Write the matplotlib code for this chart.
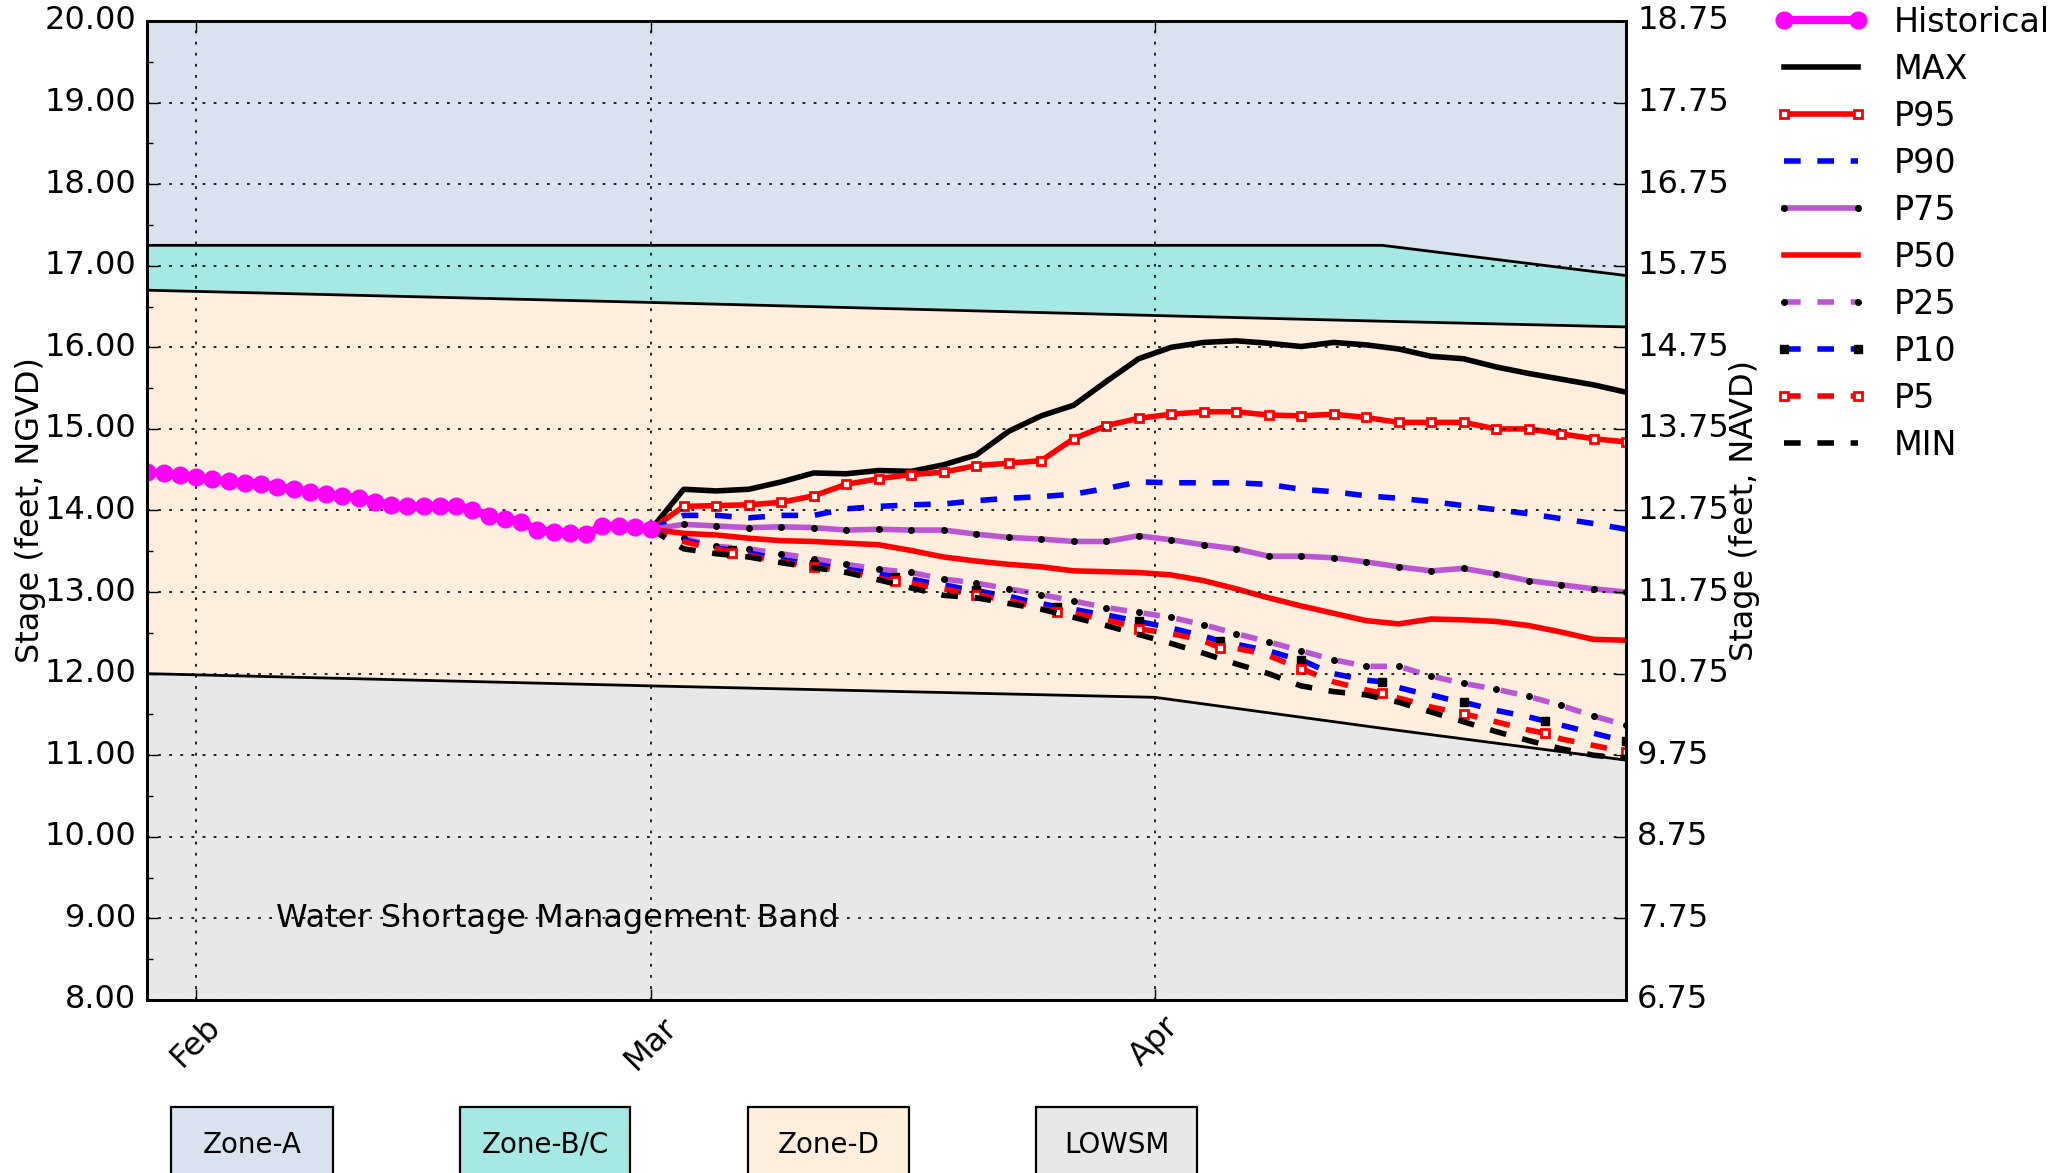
import datetime as dt
import numpy as np
import matplotlib
matplotlib.use('Agg')
import matplotlib.pyplot as plt
import matplotlib.dates as mdates
from matplotlib.ticker import MultipleLocator, FormatStrFormatter
from matplotlib.patches import Rectangle

plt.style.use('classic')

# historical daily stage, Jan 29 -> Mar 1
hist_start = dt.date(2023, 1, 29)
hist_stage = [14.47, 14.46, 14.44, 14.41, 14.38, 14.36, 14.34, 14.33, 14.29, 14.26,
              14.23, 14.20, 14.18, 14.15, 14.11, 14.07, 14.05, 14.05, 14.05, 14.06,
              14.01, 13.93, 13.90, 13.86, 13.76, 13.74, 13.73, 13.71, 13.81, 13.81,
              13.80, 13.77]

# forecast position analysis, every 2 days from Mar 1
fc_start = dt.date(2023, 3, 1)
p_max = [13.77, 14.26, 14.24, 14.26, 14.35, 14.46, 14.45, 14.49, 14.48, 14.56, 14.68,
         14.97, 15.16, 15.29, 15.58, 15.86, 16.00, 16.06, 16.08, 16.05, 16.01,
         16.06, 16.03, 15.98, 15.89, 15.86, 15.76, 15.68, 15.61, 15.54, 15.45]
p95 = [13.77, 14.05, 14.06, 14.07, 14.10, 14.18, 14.32, 14.39, 14.44, 14.47, 14.55,
       14.58, 14.61, 14.88, 15.04, 15.13, 15.18, 15.21, 15.21, 15.17, 15.16,
       15.18, 15.14, 15.08, 15.08, 15.08, 15.00, 15.00, 14.94, 14.88, 14.84]
p90 = [13.77, 13.94, 13.94, 13.91, 13.94, 13.94, 14.02, 14.05, 14.07, 14.08, 14.12,
       14.15, 14.17, 14.20, 14.27, 14.35, 14.34, 14.34, 14.34, 14.32, 14.26,
       14.23, 14.18, 14.15, 14.11, 14.06, 14.01, 13.96, 13.90, 13.84, 13.77]
p75 = [13.77, 13.83, 13.81, 13.79, 13.80, 13.79, 13.76, 13.77, 13.76, 13.76, 13.71,
       13.67, 13.65, 13.62, 13.62, 13.69, 13.64, 13.58, 13.53, 13.44, 13.44,
       13.42, 13.37, 13.31, 13.26, 13.29, 13.22, 13.14, 13.09, 13.04, 13.00]
p50 = [13.77, 13.72, 13.70, 13.66, 13.63, 13.62, 13.60, 13.58, 13.51, 13.43, 13.38,
       13.34, 13.31, 13.26, 13.25, 13.24, 13.21, 13.14, 13.04, 12.93, 12.83,
       12.74, 12.65, 12.61, 12.67, 12.66, 12.64, 12.59, 12.51, 12.42, 12.41]
p25 = [13.77, 13.66, 13.56, 13.53, 13.47, 13.41, 13.34, 13.28, 13.24, 13.16, 13.11,
       13.04, 12.97, 12.89, 12.81, 12.75, 12.69, 12.60, 12.49, 12.39, 12.28,
       12.17, 12.09, 12.09, 11.97, 11.88, 11.81, 11.72, 11.61, 11.48, 11.37]
p_min = [13.77, 13.53, 13.47, 13.43, 13.36, 13.30, 13.24, 13.15, 13.05, 12.96, 12.93,
         12.86, 12.79, 12.69, 12.59, 12.48, 12.37, 12.25, 12.12, 12.00, 11.85,
         11.78, 11.74, 11.65, 11.53, 11.41, 11.29, 11.18, 11.08, 11.00, 10.96]
# daily series
p10 = [13.77, 13.71, 13.64, 13.59, 13.54, 13.51, 13.48, 13.44, 13.40, 13.37,
       13.35, 13.31, 13.28, 13.25, 13.22, 13.19, 13.16, 13.12, 13.09, 13.05,
       13.02, 12.98, 12.95, 12.90, 12.86, 12.82, 12.79, 12.75, 12.72, 12.68,
       12.64, 12.60, 12.56, 12.51, 12.46, 12.40, 12.36, 12.32, 12.28, 12.22,
       12.17, 12.08, 12.00, 11.96, 11.92, 11.90, 11.83, 11.78, 11.74, 11.69,
       11.65, 11.60, 11.55, 11.51, 11.47, 11.42, 11.37, 11.32, 11.27, 11.22, 11.17]
p5 = [13.77, 13.70, 13.62, 13.57, 13.53, 13.48, 13.45, 13.41, 13.37, 13.34,
      13.31, 13.28, 13.25, 13.21, 13.17, 13.13, 13.11, 13.07, 13.04, 13.00,
      12.97, 12.93, 12.90, 12.85, 12.80, 12.76, 12.74, 12.70, 12.66, 12.61,
      12.55, 12.52, 12.49, 12.45, 12.40, 12.32, 12.31, 12.27, 12.22, 12.14,
      12.06, 11.98, 11.90, 11.85, 11.80, 11.76, 11.70, 11.65, 11.59, 11.55,
      11.51, 11.46, 11.41, 11.36, 11.31, 11.27, 11.20, 11.16, 11.12, 11.08, 11.04]

# regulation schedule zones
zone_dates = [dt.date(2023, 1, 29), dt.date(2023, 3, 1), dt.date(2023, 4, 1),
              dt.date(2023, 4, 15), dt.date(2023, 4, 30)]
zone_a_bot = [17.25, 17.25, 17.25, 17.25, 16.88]
zone_bc_bot = [16.70, 16.55, 16.39, 16.32, 16.25]
lowsm_top = [12.00, 11.85, 11.71, 11.33, 10.94]

zone_names = ['Zone-A', 'Zone-B/C', 'Zone-D', 'LOWSM']
zone_colors = ['#d9e2ee', '#a6e8e4', '#fdeede', '#e8e8e8']

hist_dates = [hist_start + dt.timedelta(days=i) for i in range(len(hist_stage))]
fc_dates = [fc_start + dt.timedelta(days=2 * i) for i in range(len(p_max))]
day_dates = [fc_start + dt.timedelta(days=i) for i in range(len(p10))]

fig = plt.figure(figsize=(10.285, 5.865), dpi=200, facecolor='white')
ax = fig.add_axes([0.0717, 0.1475, 0.7188, 0.8346])

ax.fill_between(zone_dates, zone_a_bot, 20, color=zone_colors[0], lw=0)
ax.fill_between(zone_dates, zone_bc_bot, zone_a_bot, color=zone_colors[1], lw=0)
ax.fill_between(zone_dates, lowsm_top, zone_bc_bot, color=zone_colors[2], lw=0)
ax.fill_between(zone_dates, 8, lowsm_top, color=zone_colors[3], lw=0)
for b in (zone_a_bot, zone_bc_bot, lowsm_top):
    ax.plot(zone_dates, b, color='k', lw=1)

purple = '#ba55d3'
ax.plot(hist_dates, hist_stage, color='magenta', lw=3, marker='o', ms=6,
        mec='magenta', label='Historical', zorder=6)
ax.plot(fc_dates, p_max, color='k', lw=2, label='MAX')
ax.plot(fc_dates, p95, color='r', lw=2, marker='s', ms=3, mfc='white', mec='r',
        mew=1, label='P95')
ax.plot(fc_dates, p90, color='b', lw=2, ls='--', label='P90')
ax.plot(fc_dates, p75, color=purple, lw=2, marker='o', ms=2, mfc='k', mec='k',
        label='P75')
ax.plot(fc_dates, p50, color='r', lw=2, label='P50')
ax.plot(fc_dates, p25, color=purple, lw=2, ls='--', marker='o', ms=2, mfc='k',
        mec='k', label='P25')
ax.plot(day_dates, p10, color='b', lw=2, ls='--', marker='s', ms=3, mfc='k',
        mec='k', markevery=5, label='P10')
ax.plot(day_dates, p5, color='r', lw=2, ls='--', marker='s', ms=3, mfc='white',
        mec='r', mew=1, markevery=5, label='P5')
ax.plot(fc_dates, p_min, color='k', lw=2, ls='--', label='MIN')

ax.set_xlim(dt.date(2023, 1, 29), dt.date(2023, 4, 30))
ax.set_ylim(8, 20)
ax.yaxis.set_major_locator(MultipleLocator(1))
ax.yaxis.set_minor_locator(MultipleLocator(0.5))
ax.yaxis.set_major_formatter(FormatStrFormatter('%.2f'))
ax.yaxis.set_ticks_position('left')
ax.xaxis.set_major_locator(mdates.MonthLocator())
ax.xaxis.set_major_formatter(mdates.DateFormatter('%b'))
ax.tick_params(labelsize=11.5)
plt.setp(ax.get_xticklabels(), rotation=45)
ax.grid(True, color='k', ls=':', lw=0.6)
ax.set_axisbelow(False)
ax.set_ylabel('Stage (feet, NGVD)', fontsize=11.5)
ax.yaxis.set_label_coords(-0.0686, 0.5)
ax.text(0.0866, 1.0 / 12, 'Water Shortage Management Band', transform=ax.transAxes,
        fontsize=11.5, va='center', ha='left')

ax2 = ax.twinx()
ax2.set_ylim(6.75, 18.75)
ax2.set_yticks(np.arange(6.75, 18.76, 1.0))
ax2.yaxis.set_major_formatter(FormatStrFormatter('%.2f'))
ax2.tick_params(labelsize=11.5)
ax2.set_ylabel('Stage (feet, NAVD)', fontsize=11.5)
ax2.yaxis.set_label_coords(1.0693, 0.5)

ax.legend(loc='upper left', bbox_to_anchor=(1.1002, 1.0155), frameon=False,
          fontsize=12, numpoints=2, handlelength=2.8, handletextpad=0.8,
          labelspacing=0.42, borderpad=0, borderaxespad=0)

# zone key boxes under the plot
box_left = [0.0831, 0.2234, 0.3636, 0.5037]
box_width = [0.0788, 0.0831, 0.0783, 0.0783]
for name, col, x0, w in zip(zone_names, zone_colors, box_left, box_width):
    fig.add_artist(Rectangle((x0, -0.05), w, 0.1063, transform=fig.transFigure,
                             facecolor=col, edgecolor='k', lw=0.8))
    fig.text(x0 + w / 2, 0.0239, name, ha='center', va='center', fontsize=10)

fig.savefig('out.png', dpi=200, facecolor='white')
